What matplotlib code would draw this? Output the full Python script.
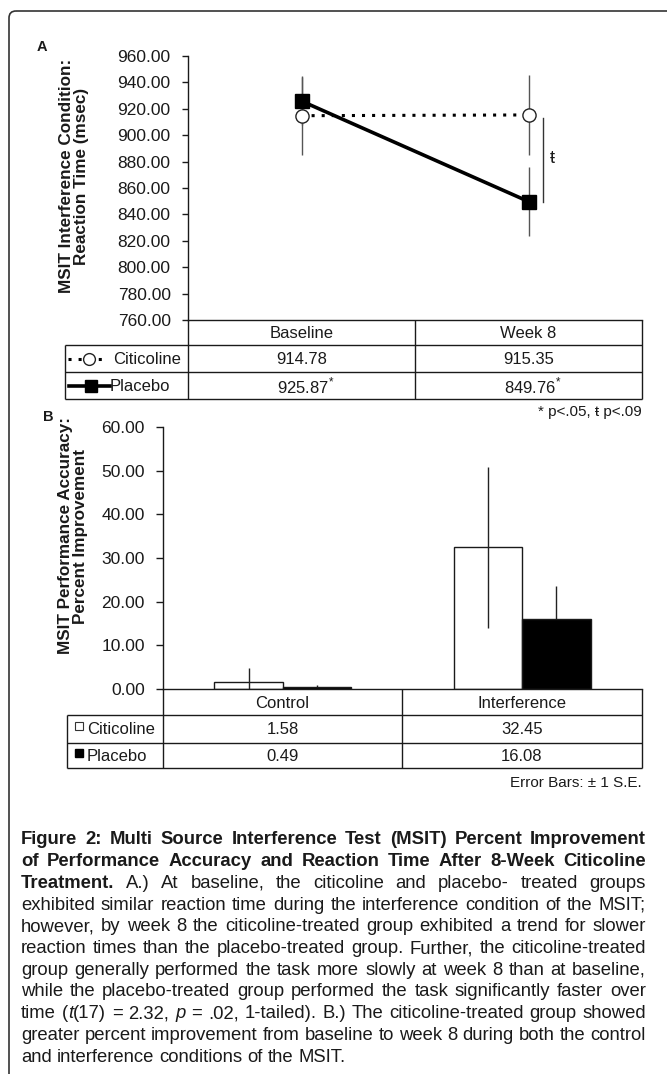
import matplotlib
matplotlib.use('Agg')
import matplotlib.pyplot as plt
from matplotlib.font_manager import FontProperties
from matplotlib.patches import FancyBboxPatch

plt.rcParams['font.family'] = ['Liberation Sans', 'DejaVu Sans']
plt.rcParams['mathtext.fontset'] = 'custom'
plt.rcParams['mathtext.rm'] = 'Liberation Sans'

# ── Data ───────────────────────────────────────────────────────────────────────
timepoints = ['Baseline', 'Week 8']
rt_citicoline = [914.78, 915.35]
rt_placebo = [925.87, 849.76]
rt_citicoline_se = [30.0, 30.0]
rt_placebo_se = [18.0, 26.0]
rt_placebo_marks = ['*', '*']

conditions = ['Control', 'Interference']
acc_citicoline = [1.58, 32.45]
acc_placebo = [0.49, 16.08]
acc_citicoline_se = [3.2, 18.5]
acc_placebo_se = [0.4, 7.5]

rt_ticks = list(range(760, 961, 20))
acc_ticks = list(range(0, 61, 10))

W, H = 667, 1074
INK = '#1a1a1a'

fig = plt.figure(figsize=(W / 100, H / 100), dpi=100)


def px_axes(l, t, r, b):
    return fig.add_axes([l / W, 1 - b / H, (r - l) / W, (b - t) / H])


# overlay in pixel coordinates for the tables, labels and caption
ov = fig.add_axes([0, 0, 1, 1], zorder=5)
ov.set_xlim(0, W)
ov.set_ylim(H, 0)
ov.axis('off')


def hline(y, x0, x1, lw=1.0):
    ov.plot([x0, x1], [y, y], color=INK, lw=lw, solid_capstyle='butt')


def vline(x, y0, y1, lw=1.0):
    ov.plot([x, x], [y0, y1], color=INK, lw=lw, solid_capstyle='butt')


# outer frame (rounded top-left corner, open to the right and bottom)
ov.add_patch(FancyBboxPatch((9, 11), 800, 1200, boxstyle='round,pad=0,rounding_size=7',
                            fill=False, ec='#333333', lw=1.2))

# ── Panel A: reaction time ─────────────────────────────────────────────────────
axA = px_axes(188, 56, 642, 320)
axA.set_xlim(-0.5, 1.5)
axA.set_ylim(760, 960)
axA.set_yticks(rt_ticks)
axA.set_yticklabels([f'{v:.2f}' for v in rt_ticks])
axA.set_xticks([])
for s in ['top', 'right']:
    axA.spines[s].set_visible(False)
for s in ['left', 'bottom']:
    axA.spines[s].set_linewidth(1.0)
    axA.spines[s].set_color(INK)
axA.tick_params(axis='y', direction='out', length=4, width=1, pad=8.5,
                labelsize=12.5, colors=INK)
axA.patch.set_alpha(0)

x = [0, 1]
axA.errorbar(x, rt_citicoline, yerr=rt_citicoline_se, fmt='none', ecolor='#555555',
             elinewidth=1, capsize=0, zorder=2)
axA.errorbar(x, rt_placebo, yerr=rt_placebo_se, fmt='none', ecolor='#555555',
             elinewidth=1, capsize=0, zorder=2)
axA.plot(x, rt_citicoline, color='black', lw=2.2, linestyle=(0, (1, 2.3)),
         marker='o', markersize=9.5, markerfacecolor='white', markeredgecolor='#222222',
         markeredgewidth=1, zorder=3)
axA.plot(x, rt_placebo, color='black', lw=2.6, marker='s', markersize=10,
         markerfacecolor='black', markeredgecolor='black', zorder=4)

# trend bracket between groups at week 8
axA.plot([1.064, 1.064], [rt_citicoline[1] - 2, rt_placebo[1]], color='#333333', lw=1)
axA.text(1.105, (rt_citicoline[1] + rt_placebo[1]) / 2, 'ŧ', fontsize=13,
         ha='center', va='center', color=INK)

ov.text(42, 47, 'A', fontsize=10.5, fontweight='bold', ha='center', va='center', color=INK)
ov.text(74, 176, 'MSIT Interference Condition:\nReaction Time (msec)', rotation=90,
        fontsize=12.3, fontweight='bold', ha='center', va='center', multialignment='center',
        linespacing=1.05, color=INK)

# table under panel A
col_edges_A = [188, 415, 642]
rows_A = [320, 345, 372, 399]
hline(rows_A[1], 65, 642)
hline(rows_A[2], 65, 642)
hline(rows_A[3], 65, 642)
vline(65, rows_A[1], rows_A[3])
for cx in col_edges_A:
    vline(cx, rows_A[0], rows_A[3])

for i, name in enumerate(timepoints):
    cx = (col_edges_A[i] + col_edges_A[i + 1]) / 2
    ov.text(cx, (rows_A[0] + rows_A[1]) / 2 + 1, name, fontsize=12, ha='center', va='center', color=INK)
    ov.text(cx, (rows_A[1] + rows_A[2]) / 2 + 1, f'{rt_citicoline[i]:.2f}', fontsize=12,
            ha='center', va='center', color=INK)
    ov.text(cx + 4, (rows_A[2] + rows_A[3]) / 2 + 1,
            f'{rt_placebo[i]:.2f}' + r'$^{' + rt_placebo_marks[i] + '}$', fontsize=12,
            ha='center', va='center', color=INK)

# row legends
yc = (rows_A[1] + rows_A[2]) / 2
ov.plot([68, 106], [yc, yc], color='black', lw=2.2, linestyle=(0, (1, 2.3)))
ov.plot([89], [yc], marker='o', markersize=8.5, markerfacecolor='white',
        markeredgecolor='#222222', markeredgewidth=1)
ov.text(113, yc + 1, 'Citicoline', fontsize=12, ha='left', va='center', color=INK)
yp = (rows_A[2] + rows_A[3]) / 2
ov.plot([69, 110], [yp, yp], color='black', lw=2.6)
ov.plot([91], [yp], marker='s', markersize=8.5, color='black')
ov.text(110, yp + 1, 'Placebo', fontsize=12, ha='left', va='center', color=INK)

ov.text(642, 412, '* p<.05, ŧ p<.09', fontsize=11, ha='right', va='center', color=INK)

# ── Panel B: accuracy ──────────────────────────────────────────────────────────
axB = px_axes(163, 427, 642, 689)
axB.set_xlim(-0.5, 1.5)
axB.set_ylim(0, 60)
axB.set_yticks(acc_ticks)
axB.set_yticklabels([f'{v:.2f}' for v in acc_ticks])
axB.set_xticks([])
for s in ['top', 'right']:
    axB.spines[s].set_visible(False)
for s in ['left', 'bottom']:
    axB.spines[s].set_linewidth(1.0)
    axB.spines[s].set_color(INK)
axB.tick_params(axis='y', direction='out', length=5, width=1, pad=8,
                labelsize=12.5, colors=INK)
axB.patch.set_alpha(0)

bw = 0.285
xc = [i - bw / 2 for i in range(len(conditions))]
xp = [i + bw / 2 for i in range(len(conditions))]
axB.bar(xc, acc_citicoline, width=bw, color='white', edgecolor=INK, linewidth=1, zorder=2)
axB.bar(xp, acc_placebo, width=bw, color='black', edgecolor=INK, linewidth=1, zorder=2)
axB.errorbar(xc, acc_citicoline, yerr=acc_citicoline_se, fmt='none', ecolor='#222222',
             elinewidth=1, capsize=0, zorder=3)
axB.errorbar(xp, acc_placebo, yerr=acc_placebo_se, fmt='none', ecolor='#222222',
             elinewidth=1, capsize=0, zorder=1)

ov.text(48, 417, 'B', fontsize=10.5, fontweight='bold', ha='center', va='center', color=INK)
ov.text(73, 536, 'MSIT Performance Accuracy:\nPercent Improvement', rotation=90,
        fontsize=12.3, fontweight='bold', ha='center', va='center', multialignment='center',
        linespacing=1.05, color=INK)

col_edges_B = [163, 402, 642]
rows_B = [689, 715, 743, 768]
hline(rows_B[1], 67, 642)
hline(rows_B[2], 67, 642)
hline(rows_B[3], 67, 642)
vline(67, rows_B[1], rows_B[3])
for cx in col_edges_B:
    vline(cx, rows_B[0], rows_B[3])

for i, name in enumerate(conditions):
    cx = (col_edges_B[i] + col_edges_B[i + 1]) / 2
    ov.text(cx, (rows_B[0] + rows_B[1]) / 2 + 1, name, fontsize=12, ha='center', va='center', color=INK)
    ov.text(cx, (rows_B[1] + rows_B[2]) / 2 + 1, f'{acc_citicoline[i]:.2f}', fontsize=12,
            ha='center', va='center', color=INK)
    ov.text(cx, (rows_B[2] + rows_B[3]) / 2 + 1, f'{acc_placebo[i]:.2f}', fontsize=12,
            ha='center', va='center', color=INK)

yc = (rows_B[1] + rows_B[2]) / 2
ov.plot([79], [yc - 3], marker='s', markersize=6, markerfacecolor='white',
        markeredgecolor='#333333', markeredgewidth=0.8)
ov.text(87, yc + 1, 'Citicoline', fontsize=12, ha='left', va='center', color=INK)
yp = (rows_B[2] + rows_B[3]) / 2
ov.plot([79], [yp - 3], marker='s', markersize=6, color='black')
ov.text(87, yp + 1, 'Placebo', fontsize=12, ha='left', va='center', color=INK)

ov.text(642, 783, 'Error Bars: ± 1 S.E.', fontsize=11, ha='right', va='center', color=INK)

# ── Caption (justified) ────────────────────────────────────────────────────────
caption = [
    [("Figure 2: Multi Source Interference Test (MSIT) Percent Improvement", 'b')],
    [("of Performance Accuracy and Reaction Time After 8-Week Citicoline", 'b')],
    [("Treatment.", 'b'), (" A.) At baseline, the citicoline and placebo- treated groups", 'n')],
    [("exhibited similar reaction time during the interference condition of the MSIT;", 'n')],
    [("however, by week 8 the citicoline-treated group exhibited a trend for slower", 'n')],
    [("reaction times than the placebo-treated group. Further, the citicoline-treated", 'n')],
    [("group generally performed the task more slowly at week 8 than at baseline,", 'n')],
    [("while the placebo-treated group performed the task significantly faster over", 'n')],
    [("time (", 'n'), ("t", 'i'), ("(17) = 2.32, ", 'n'), ("p", 'i'),
     (" = .02, 1-tailed). B.) The citicoline-treated group showed", 'n')],
    [("greater percent improvement from baseline to week 8 during both the control", 'n')],
    [("and interference conditions of the MSIT.", 'n')],
]

cap_size = 13.3
fonts = {
    'n': FontProperties(family=['Liberation Sans', 'DejaVu Sans'], size=cap_size),
    'b': FontProperties(family=['Liberation Sans', 'DejaVu Sans'], size=cap_size, weight='bold'),
    'i': FontProperties(family=['Liberation Sans', 'DejaVu Sans'], size=cap_size, style='italic'),
}
renderer = fig.canvas.get_renderer()


def text_w(s, style):
    return renderer.get_text_width_height_descent(s, fonts[style], ismath=False)[0]


space_w = text_w('x x', 'n') - text_w('xx', 'n')
left, right = 21, 646
base0, lead = 844.5, 21.7

for li, segs in enumerate(caption):
    words = [[]]
    for txt, st in segs:
        parts = txt.split(' ')
        for k, p in enumerate(parts):
            if k > 0:
                words.append([])
            if p:
                words[-1].append((p, st))
    words = [w for w in words if w]
    widths = [sum(text_w(p, st) for p, st in w) for w in words]
    if li < len(caption) - 1:
        gap = max((right - left - sum(widths)) / (len(words) - 1), 0.6 * space_w)
    else:
        gap = space_w
    xx = left
    y = base0 + li * lead
    for w, ww in zip(words, widths):
        cx = xx
        for p, st in w:
            ov.text(cx, y, p, fontproperties=fonts[st], ha='left', va='baseline', color=INK)
            cx += text_w(p, st)
        xx += ww + gap

fig.savefig('out.png', dpi=100)
